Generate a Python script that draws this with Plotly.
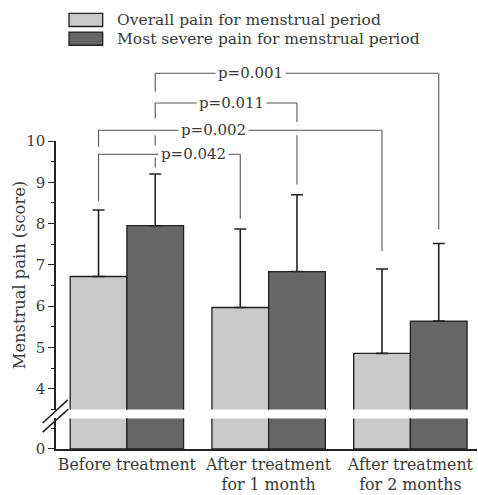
import plotly.graph_objects as go

# ---------------- data ----------------
groups = ["Before treatment", "After treatment<br>for 1 month", "After treatment<br>for 2 months"]
series_names = ["Overall pain for menstrual period", "Most severe pain for menstrual period"]
overall = [6.72, 5.97, 4.86]
overall_sd = [1.61, 1.90, 2.04]
severe = [7.95, 6.84, 5.64]
severe_sd = [1.25, 1.86, 1.88]
upper_ticks = [4, 5, 6, 7, 8, 9, 10]
lower_ticks = [0]

p_labels = ["p=0.001", "p=0.011", "p=0.002", "p=0.042"]

# ---------------- style / layout ----------------
W, H = 478, 495
ML, MR, MT, MB = 56, 1, 141, 42
PW, PH = W - ML - MR, H - MT - MB
FONT = "DejaVu Serif"
TXT = "#3a3a3a"
LINE = "#222222"
LIGHT = "#c9c9c9"
DARK = "#666666"
BRK = "#555555"


def px_x(px):
    return (px - ML) / PW


def px_y(py):
    return (H - MB - py) / PH


UP_LO, UP_HI = 3.5, 10
DOM_U = [px_y(413), 1.0]
DOM_L = [0.0, px_y(422)]
LO_LO, LO_HI = 0, 1.5


def yv(v):
    return DOM_U[0] + (v - UP_LO) / (UP_HI - UP_LO) * (DOM_U[1] - DOM_U[0])


xs = list(range(len(groups)))
fig = go.Figure()

for yaxis, show_err in (("y", True), ("y2", False)):
    fig.add_trace(go.Bar(
        x=xs, y=overall, name=series_names[0], yaxis=yaxis, xaxis="x",
        marker=dict(color=LIGHT, line=dict(color=LINE, width=1.3)),
        error_y=dict(type="data", array=overall_sd, symmetric=False,
                     arrayminus=[0] * 3, color=LINE, thickness=1.6, width=6,
                     visible=show_err),
        offsetgroup="a", showlegend=False))
    fig.add_trace(go.Bar(
        x=xs, y=severe, name=series_names[1], yaxis=yaxis, xaxis="x",
        marker=dict(color=DARK, line=dict(color=LINE, width=1.3)),
        error_y=dict(type="data", array=severe_sd, symmetric=False,
                     arrayminus=[0] * 3, color=LINE, thickness=1.6, width=6,
                     visible=show_err),
        offsetgroup="b", showlegend=False))

shapes = []
annotations = []

# brackets: (label, x_left, x_right, height, left leg segments, right leg segments, label x)
brackets = [
    (p_labels[0], 0.2, 2.2, 11.64, [(11.64, 11.19)], [(11.64, 7.86)], 0.87),
    (p_labels[1], 0.2, 1.2, 10.92, [(10.92, 10.55), (10.14, 9.90), (9.60, 9.36)],
     [(10.92, 10.46), (10.14, 8.95)], 0.74),
    (p_labels[2], -0.2, 1.8, 10.26, [(10.26, 9.86)], [(10.26, 7.33)], 0.61),
    (p_labels[3], -0.2, 0.8, 9.68, [(9.68, 8.55)], [(9.68, 8.12)], 0.47),
]
for lab, xl, xr, h, lseg, rseg, lx in brackets:
    shapes.append(dict(type="line", xref="x", yref="paper", x0=xl, x1=xr,
                       y0=yv(h), y1=yv(h), line=dict(color=BRK, width=1.1)))
    for a, b in lseg:
        shapes.append(dict(type="line", xref="x", yref="paper", x0=xl, x1=xl,
                           y0=yv(a), y1=yv(b), line=dict(color=BRK, width=1.1)))
    for a, b in rseg:
        shapes.append(dict(type="line", xref="x", yref="paper", x0=xr, x1=xr,
                           y0=yv(a), y1=yv(b), line=dict(color=BRK, width=1.1)))
    annotations.append(dict(text=lab, xref="x", yref="paper", x=lx, y=yv(h),
                            xanchor="center", yanchor="middle", showarrow=False,
                            bgcolor="white", borderpad=2,
                            font=dict(family=FONT, size=15, color=TXT)))

# axis break marks
for (x0, y0, x1, y1) in [(42.7, 426.7, 67.7, 403.3), (42.7, 436.0, 68.3, 412.7)]:
    shapes.append(dict(type="line", xref="paper", yref="paper",
                       x0=px_x(x0), y0=px_y(y0), x1=px_x(x1), y1=px_y(y1),
                       line=dict(color=LINE, width=1.6)))

# custom legend
for i, (name, col) in enumerate(zip(series_names, [LIGHT, DARK])):
    top = 11.7 + i * 19.0
    shapes.append(dict(type="rect", xref="paper", yref="paper",
                       x0=px_x(69), x1=px_x(102.7), y0=px_y(top), y1=px_y(top + 13.3),
                       fillcolor=col, line=dict(color=LINE, width=1.3)))
    annotations.append(dict(text=name, xref="paper", yref="paper",
                            x=px_x(115), y=px_y(top + 6.7), xanchor="left",
                            yanchor="middle", showarrow=False,
                            font=dict(family=FONT, size=15.5, color=TXT)))

# y title
annotations.append(dict(text="Menstrual pain (score)", xref="paper", yref="paper",
                        x=px_x(19), y=px_y(277), textangle=-90, showarrow=False,
                        xanchor="center", yanchor="middle",
                        font=dict(family=FONT, size=16.3, color=TXT)))

fig.update_layout(
    width=W, height=H,
    margin=dict(l=ML, r=MR, t=MT, b=MB, pad=0),
    paper_bgcolor="white", plot_bgcolor="white",
    barmode="group", bargap=0.2, bargroupgap=0,
    font=dict(family=FONT, size=15, color=TXT),
    xaxis=dict(domain=[0, 1], anchor="y2", range=[-0.5, 2.47],
               tickmode="array", tickvals=xs, ticktext=groups,
               showline=True, linecolor=LINE, linewidth=1.5, ticks="",
               showgrid=False, zeroline=False,
               tickfont=dict(family=FONT, size=15.8, color=TXT)),
    yaxis=dict(domain=DOM_U, anchor="x", range=[UP_LO, UP_HI],
               tickmode="array", tickvals=upper_ticks,
               showline=True, linecolor=LINE, linewidth=1.5,
               ticks="outside", ticklen=6, tickwidth=1.3, tickcolor=LINE,
               minor=dict(dtick=0.5, tick0=0, ticks="outside", ticklen=3.5,
                          tickwidth=1.1, tickcolor=LINE),
               showgrid=False, zeroline=False,
               tickfont=dict(family=FONT, size=15, color=TXT)),
    yaxis2=dict(domain=DOM_L, anchor="x", range=[LO_LO, LO_HI],
                tickmode="array", tickvals=lower_ticks,
                showline=True, linecolor=LINE, linewidth=1.5,
                ticks="outside", ticklen=6, tickwidth=1.3, tickcolor=LINE,
                minor=dict(tickmode="array", tickvals=[1.0], ticks="outside",
                           ticklen=3.5, tickwidth=1.1, tickcolor=LINE),
                showgrid=False, zeroline=False,
                tickfont=dict(family=FONT, size=15, color=TXT)),
    shapes=shapes,
    annotations=annotations,
)

fig.write_html(
    "out.html",
    config={"displayModeBar": False},
    post_script="document.body.style.margin='0';document.body.style.overflow='hidden';",
)
